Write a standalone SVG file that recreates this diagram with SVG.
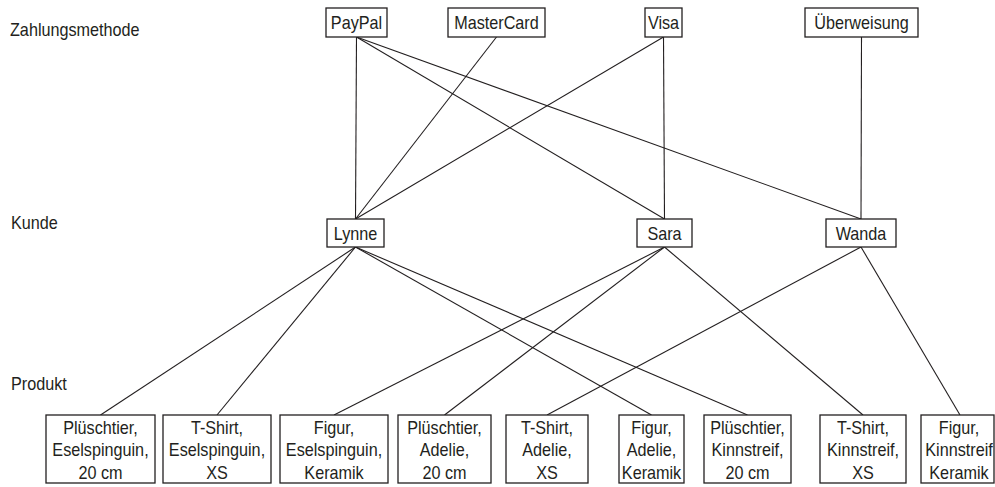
<svg xmlns="http://www.w3.org/2000/svg" width="995" height="487" viewBox="0 0 995 487">
<style>
text{font-family:"Liberation Sans",Arial,sans-serif;font-size:18px;fill:#231f20;transform-box:fill-box;transform-origin:50% 50%;transform:scaleX(0.9)}
.c{text-anchor:middle}
.l{transform-origin:0 50%}
rect{fill:#fff;stroke:#231f20;stroke-width:1.3}
#connectors line{stroke:#231f20;stroke-width:1.1}
</style>
<rect x="0" y="0" width="995" height="487" style="stroke:none;fill:#fff"/>
<g id="labels">
<text class="l" x="10" y="36">Zahlungsmethode</text>
<text class="l" x="11" y="229">Kunde</text>
<text class="l" x="11" y="390">Produkt</text>
</g>
<g id="connectors">
<line x1="356.5" y1="37" x2="355.5" y2="219"/>
<line x1="356.5" y1="37" x2="664.5" y2="219"/>
<line x1="356.5" y1="37" x2="861" y2="219"/>
<line x1="496.5" y1="37" x2="355.5" y2="219"/>
<line x1="663.5" y1="37" x2="355.5" y2="219"/>
<line x1="663.5" y1="37" x2="664.5" y2="219"/>
<line x1="861.5" y1="37" x2="861" y2="219"/>
<line x1="355.5" y1="247" x2="100.5" y2="415"/>
<line x1="355.5" y1="247" x2="217" y2="415"/>
<line x1="355.5" y1="247" x2="651.5" y2="415"/>
<line x1="355.5" y1="247" x2="747.5" y2="415"/>
<line x1="664.5" y1="247" x2="334" y2="415"/>
<line x1="664.5" y1="247" x2="444.5" y2="415"/>
<line x1="664.5" y1="247" x2="863" y2="415"/>
<line x1="861" y1="247" x2="547" y2="415"/>
<line x1="861" y1="247" x2="960" y2="415"/>
</g>
<g id="paypal"><rect x="326" y="8" width="61" height="29"/><text class="c" x="356.5" y="29">PayPal</text></g>
<g id="mastercard"><rect x="448" y="8" width="97" height="29"/><text class="c" x="496.5" y="29">MasterCard</text></g>
<g id="visa"><rect x="645" y="8" width="37" height="29"/><text class="c" x="663.5" y="29">Visa</text></g>
<g id="ueberweisung"><rect x="805" y="8" width="113" height="29"/><text class="c" x="861.5" y="29">Überweisung</text></g>
<g id="lynne"><rect x="327" y="219" width="57" height="28"/><text class="c" x="355.5" y="240">Lynne</text></g>
<g id="sara"><rect x="637" y="219" width="55" height="28"/><text class="c" x="664.5" y="240">Sara</text></g>
<g id="wanda"><rect x="826" y="219" width="70" height="28"/><text class="c" x="861" y="240">Wanda</text></g>
<g id="p1"><rect x="46" y="415" width="109" height="68"/><text class="c" x="100.5" y="434">Plüschtier,</text><text class="c" x="100.5" y="456.5">Eselspinguin,</text><text class="c" x="100.5" y="479">20 cm</text></g>
<g id="p2"><rect x="163" y="415" width="108" height="68"/><text class="c" x="217" y="434">T-Shirt,</text><text class="c" x="217" y="456.5">Eselspinguin,</text><text class="c" x="217" y="479">XS</text></g>
<g id="p3"><rect x="280" y="415" width="108" height="68"/><text class="c" x="334" y="434">Figur,</text><text class="c" x="334" y="456.5">Eselspinguin,</text><text class="c" x="334" y="479">Keramik</text></g>
<g id="p4"><rect x="398" y="415" width="93" height="68"/><text class="c" x="444.5" y="434">Plüschtier,</text><text class="c" x="444.5" y="456.5">Adelie,</text><text class="c" x="444.5" y="479">20 cm</text></g>
<g id="p5"><rect x="506" y="415" width="82" height="68"/><text class="c" x="547" y="434">T-Shirt,</text><text class="c" x="547" y="456.5">Adelie,</text><text class="c" x="547" y="479">XS</text></g>
<g id="p6"><rect x="619" y="415" width="65" height="68"/><text class="c" x="651.5" y="434">Figur,</text><text class="c" x="651.5" y="456.5">Adelie,</text><text class="c" x="651.5" y="479">Keramik</text></g>
<g id="p7"><rect x="704" y="415" width="87" height="68"/><text class="c" x="747.5" y="434">Plüschtier,</text><text class="c" x="747.5" y="456.5">Kinnstreif,</text><text class="c" x="747.5" y="479">20 cm</text></g>
<g id="p8"><rect x="820" y="415" width="86" height="68"/><text class="c" x="863" y="434">T-Shirt,</text><text class="c" x="863" y="456.5">Kinnstreif,</text><text class="c" x="863" y="479">XS</text></g>
<g id="p9"><rect x="921" y="415" width="73" height="68"/><text class="c" x="959" y="434">Figur,</text><text class="c" x="959" y="456.5">Kinnstreif</text><text class="c" x="959" y="479">Keramik</text></g>
</svg>
